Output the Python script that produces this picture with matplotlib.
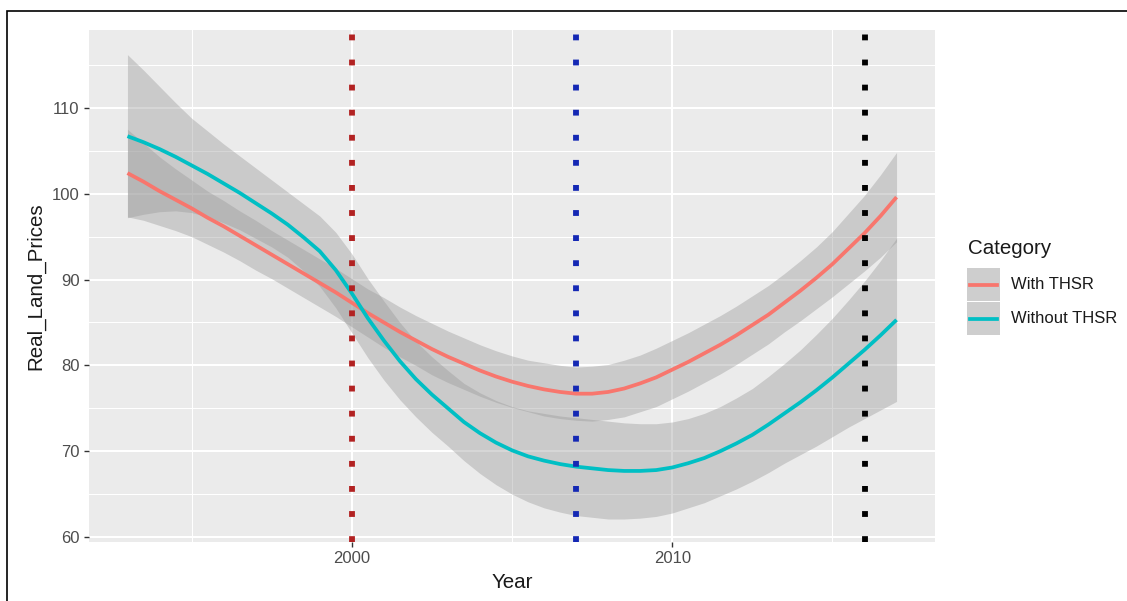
import matplotlib
matplotlib.use("Agg")
import matplotlib.pyplot as plt
from matplotlib.patches import Rectangle
from matplotlib.lines import Line2D

# ---------------- data (read at half-year steps) ----------------
years = [1993 + 0.5 * i for i in range(49)]
with_fit = [102.4, 101.4, 100.3, 99.3, 98.3, 97.2, 96.2, 95.1, 94.0, 92.9,
            91.8, 90.7, 89.6, 88.5, 87.3, 86.1, 85.0, 83.9, 82.9, 81.9,
            81.0, 80.2, 79.4, 78.7, 78.1, 77.6, 77.2, 76.9, 76.7, 76.7,
            76.9, 77.3, 77.9, 78.6, 79.5, 80.4, 81.4, 82.4, 83.5, 84.7,
            85.9, 87.3, 88.7, 90.2, 91.8, 93.6, 95.4, 97.4, 99.6]
with_se = [5.1, 4.5, 4.0, 3.6, 3.3, 3.1, 3.0, 2.9, 2.9, 2.8,
           2.8, 2.8, 2.8, 2.8, 2.8, 2.8, 2.9, 2.9, 2.9, 3.0,
           3.0, 3.0, 3.0, 3.0, 3.0, 3.0, 3.1, 3.1, 3.1, 3.2,
           3.2, 3.3, 3.3, 3.4, 3.4, 3.4, 3.4, 3.4, 3.4, 3.4,
           3.4, 3.4, 3.5, 3.6, 3.8, 4.1, 4.4, 4.8, 5.2]
without_fit = [106.7, 106.0, 105.2, 104.3, 103.3, 102.3, 101.2, 100.1, 98.9, 97.7,
               96.4, 94.9, 93.3, 91.1, 88.4, 85.5, 82.9, 80.5, 78.4, 76.6,
               75.0, 73.4, 72.1, 71.0, 70.1, 69.4, 68.9, 68.5, 68.2, 68.0,
               67.8, 67.7, 67.7, 67.8, 68.1, 68.6, 69.2, 70.0, 70.9, 71.9,
               73.1, 74.4, 75.7, 77.1, 78.6, 80.2, 81.8, 83.5, 85.3]
without_se = [9.5, 8.4, 7.3, 6.3, 5.5, 5.0, 4.6, 4.3, 4.1, 3.9,
              3.8, 3.9, 4.1, 4.4, 4.6, 4.6, 4.6, 4.5, 4.4, 4.4,
              4.4, 4.5, 4.7, 4.9, 5.1, 5.3, 5.5, 5.6, 5.7, 5.7,
              5.7, 5.6, 5.5, 5.4, 5.3, 5.2, 5.2, 5.2, 5.3, 5.4,
              5.6, 5.8, 6.1, 6.5, 6.9, 7.4, 8.0, 8.7, 9.5]
categories = ["With THSR", "Without THSR"]
series_colors = ["#F8766D", "#00BFC4"]
event_years = [2000, 2007, 2016]
event_colors = ["#B22222", "#1428B4", "#000000"]
x_ticks = [2000, 2010]
y_ticks = [60, 70, 80, 90, 100, 110]

# ---------------- figure ----------------
W, H = 1127, 601
plt.rcParams['font.family'] = ['Liberation Sans', 'DejaVu Sans']
fig = plt.figure(figsize=(W / 100, H / 100), dpi=100)
fig.patch.set_facecolor("white")

def fx(px):
    return px / W

def fy(py):
    return 1 - py / H

# outer black frame (image border)
fig.add_artist(Rectangle((fx(7), fy(700)), 2.0, fy(11) - fy(700),
                         transform=fig.transFigure, fill=False,
                         edgecolor="black", linewidth=1.2))

ax = fig.add_axes([fx(89), fy(542), fx(935) - fx(89), fy(30) - fy(542)])
ax.set_facecolor("#EBEBEB")
for s in ax.spines.values():
    s.set_visible(False)

ax.set_xlim(1991.8, 2018.2)
ax.set_ylim(59.42, 119.07)
ax.set_xticks(x_ticks)
ax.set_yticks(y_ticks)
ax.set_xticks([1995, 2005, 2015], minor=True)
ax.set_yticks([65, 75, 85, 95, 105, 115], minor=True)
ax.grid(which="major", color="white", linewidth=1.5)
ax.grid(which="minor", color="white", linewidth=0.75)
ax.set_axisbelow(True)
ax.tick_params(which="major", length=3.7, width=1.0, color="#333333",
               labelsize=12, labelcolor="#4D4D4D", pad=3)
ax.tick_params(which="minor", length=0)

fits = [with_fit, without_fit]
ses = [with_se, without_se]
for cat, col, fit, se in zip(categories, series_colors, fits, ses):
    lo = [f - s for f, s in zip(fit, se)]
    hi = [f + s for f, s in zip(fit, se)]
    ax.fill_between(years, lo, hi, color="#999999", alpha=0.4, linewidth=0, zorder=2)
    ax.plot(years, fit, color=col, linewidth=2.7, zorder=3, label=cat,
            solid_capstyle="butt", solid_joinstyle="round")

for yr, col in zip(event_years, event_colors):
    ax.axvline(yr, color=col, linewidth=4.2, linestyle=(0, (1, 3.3)), zorder=4)

ax.set_xlabel("Year", fontsize=14.8, color="#1A1A1A")
ax.set_ylabel("Real_Land_Prices", fontsize=14.8, color="#1A1A1A")
ax.xaxis.set_label_coords(0.5, -(573 - 542) / 512)
ax.yaxis.set_label_coords(-(89 - 45) / 846, 0.5)

# ---------------- legend ----------------
fig.text(fx(968), fy(248), "Category", fontsize=14.8, color="#1A1A1A",
         ha="left", va="center")
key_tops = [268, 302]
for i, (cat, col) in enumerate(zip(categories, series_colors)):
    t = key_tops[i]
    fig.add_artist(Rectangle((fx(967), fy(t + 33)), fx(1000) - fx(967), fy(t) - fy(t + 33),
                             transform=fig.transFigure, facecolor="#CECECE",
                             edgecolor="none"))
    fig.add_artist(Line2D([fx(970), fx(997)], [fy(t + 16.5), fy(t + 16.5)],
                          transform=fig.transFigure, color=col, linewidth=2.7))
    fig.text(fx(1011), fy(t + 16.5), cat, fontsize=12, color="#1A1A1A",
             ha="left", va="center")

fig.savefig("out.png", dpi=100)
